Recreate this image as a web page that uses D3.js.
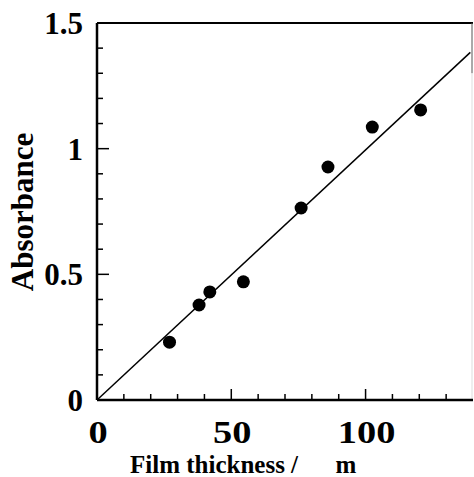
<!DOCTYPE html>
<html>
<head>
<meta charset="utf-8">
<script src="https://cdn.jsdelivr.net/npm/d3@7"></script>
<style>
  body { margin: 0; background: #fff; }
  svg text { font-family: 'Liberation Serif', 'Times New Roman', serif; font-weight: bold; fill: #000; }
</style>
</head>
<body>
<div id="chart"></div>
<script>
// measured film thickness (um) and absorbance
var thickness = [27, 38, 42, 54.5, 76, 86, 102.5, 120.5]
var absorbance = [0.23, 0.378, 0.43, 0.47, 0.764, 0.927, 1.086, 1.154]
// fitted line through origin
var fitX = [0, 139]
var fitSlope = 0.00995
var xTicks = [0, 50, 100]
var yTicks = [0, 0.5, 1, 1.5]
var yTickLabels = ['0', '0.5', '1', '1.5']

var width = 474
var height = 477
var margin = {top: 23, right: 1, bottom: 77, left: 97}

var svg = d3.select('#chart').append('svg')
  .attr('width', width)
  .attr('height', height)

var x = d3.scaleLinear()
  .domain([0, 140])
  .range([margin.left, width - margin.right])

var y = d3.scaleLinear()
  .domain([0, 1.5])
  .range([height - margin.bottom, margin.top])

// frame: top and (faint) right border
svg.append('line')
  .attr('x1', x(0)).attr('x2', x(140))
  .attr('y1', y(1.5)).attr('y2', y(1.5))
  .attr('stroke', '#000').attr('stroke-width', 2)
svg.append('line')
  .attr('x1', x(140) - 1).attr('x2', x(140) - 1)
  .attr('y1', y(1.5)).attr('y2', y(1.3))
  .attr('stroke', '#555').attr('stroke-width', 1)
svg.append('line')
  .attr('x1', x(140) - 1).attr('x2', x(140) - 1)
  .attr('y1', y(1.3)).attr('y2', y(0))
  .attr('stroke', '#ddd').attr('stroke-width', 1)

// bottom axis, ticks pointing inward
var xAxis = svg.append('g')
  .attr('transform', 'translate(0,' + y(0) + ')')
xAxis.selectAll('line.tick')
  .data(d3.range(10, 140, 10))
  .enter().append('line')
  .attr('class', 'tick')
  .attr('x1', function (d) { return x(d) })
  .attr('x2', function (d) { return x(d) })
  .attr('y1', 0)
  .attr('y2', function (d) { return d % 50 === 0 ? -11 : -6 })
  .attr('stroke', '#000').attr('stroke-width', 1.5)
xAxis.append('line')
  .attr('x1', x(0)).attr('x2', x(140))
  .attr('stroke', '#000').attr('stroke-width', 2.5)
xAxis.selectAll('text.lbl')
  .data(xTicks)
  .enter().append('text')
  .attr('class', 'lbl')
  .attr('transform', function (d) { return 'translate(' + (x(d) + 1) + ',43) scale(1.2,1)' })
  .attr('text-anchor', 'middle')
  .style('font-size', '32px')
  .text(function (d) { return d })

// left axis, ticks pointing inward
var yAxis = svg.append('g')
  .attr('transform', 'translate(' + x(0) + ',0)')
yAxis.selectAll('line.tick')
  .data(d3.range(1, 15))
  .enter().append('line')
  .attr('class', 'tick')
  .attr('y1', function (d) { return y(d / 10) })
  .attr('y2', function (d) { return y(d / 10) })
  .attr('x1', 0)
  .attr('x2', function (d) { return d % 5 === 0 ? 12 : 6 })
  .attr('stroke', '#000').attr('stroke-width', 1.5)
yAxis.append('line')
  .attr('y1', y(0)).attr('y2', y(1.5))
  .attr('stroke', '#000').attr('stroke-width', 2.5)
yAxis.selectAll('text.lbl')
  .data(yTicks)
  .enter().append('text')
  .attr('class', 'lbl')
  .attr('x', -14)
  .attr('y', function (d) { return y(d) + 11 })
  .attr('text-anchor', 'end')
  .style('font-size', '31px')
  .text(function (d, i) { return yTickLabels[i] })

// fit line
svg.append('line')
  .attr('x1', x(fitX[0])).attr('y1', y(fitX[0] * fitSlope))
  .attr('x2', x(fitX[1])).attr('y2', y(fitX[1] * fitSlope))
  .attr('stroke', '#000').attr('stroke-width', 1.5)

// data points
svg.selectAll('.dot')
  .data(thickness)
  .enter().append('circle')
  .attr('cx', function (d) { return x(d) })
  .attr('cy', function (d, i) { return y(absorbance[i]) })
  .attr('r', 6.5)
  .attr('fill', '#000')

// axis titles
svg.append('text')
  .attr('x', 130)
  .attr('y', 473)
  .attr('xml:space', 'preserve')
  .style('font-size', '25px')
  .style('white-space', 'pre')
  .text('Film thickness /      m')

svg.append('text')
  .attr('transform', 'translate(33,212) rotate(-90)')
  .attr('text-anchor', 'middle')
  .style('font-size', '31px')
  .text('Absorbance')
</script>
</body>
</html>
